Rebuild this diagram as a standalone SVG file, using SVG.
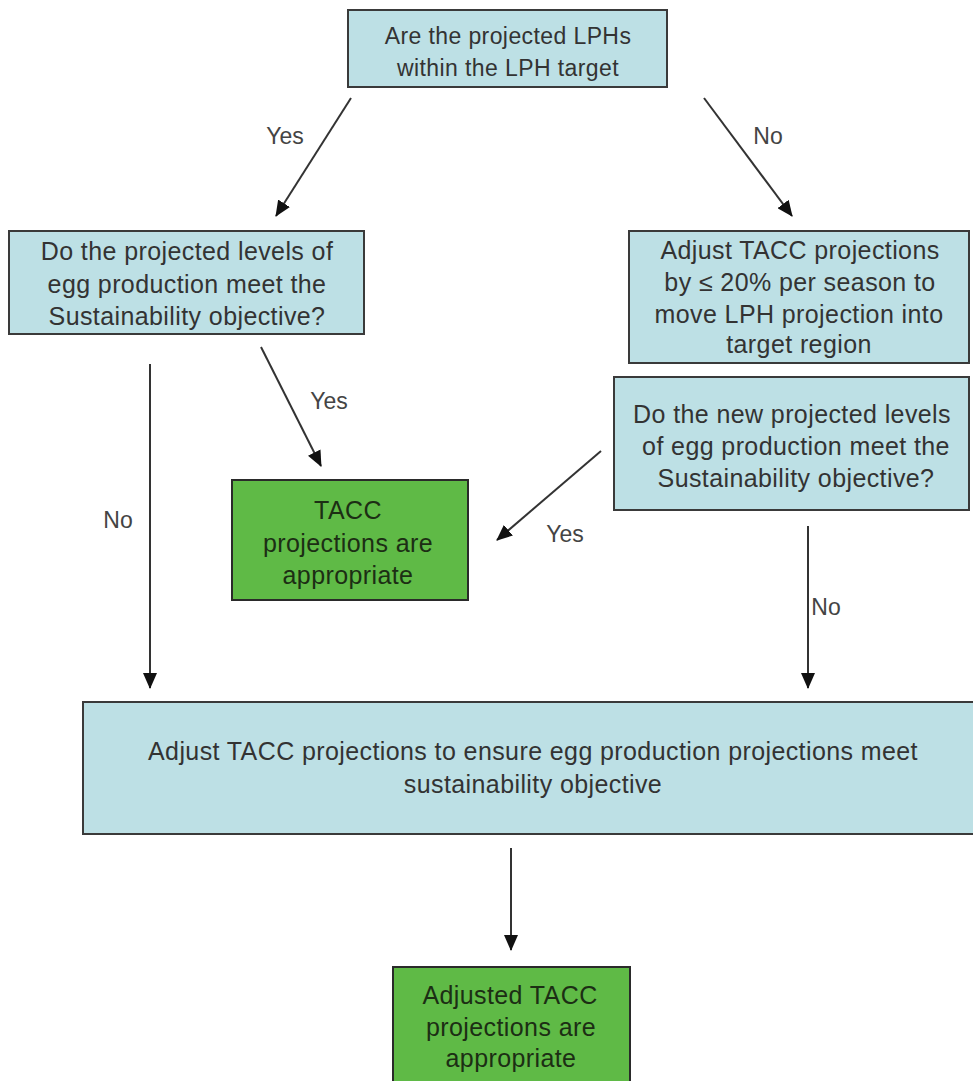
<svg xmlns="http://www.w3.org/2000/svg" width="973" height="1081" viewBox="0 0 973 1081">
<defs>
<marker id="ah" markerWidth="16" markerHeight="14" refX="15" refY="7" orient="auto" markerUnits="userSpaceOnUse" viewBox="0 0 16 14">
<path d="M0,0 L16,7 L0,14 z" fill="#111"/>
</marker>
<style>
.b{fill:#bde0e5;stroke:#3a3a3a;stroke-width:2}
.g{fill:#5fba46;stroke:#2a2a2a;stroke-width:2}
.t{font-family:"Liberation Sans",Arial,sans-serif;font-size:25px;letter-spacing:0.4px;fill:#333;text-anchor:middle}
.tg{font-family:"Liberation Sans",Arial,sans-serif;font-size:25px;letter-spacing:0.4px;fill:#1c2e14;text-anchor:middle}
.l{font-family:"Liberation Sans",Arial,sans-serif;font-size:23px;fill:#444;text-anchor:middle}
.c{stroke:#333;stroke-width:2;fill:none;marker-end:url(#ah)}
</style>
</defs>
<rect width="973" height="1081" fill="#fff"/>
<g id="n1"><rect class="b" x="348" y="10" width="319" height="77"/>
<text class="t" x="508" y="44" style="font-size:23px">Are the projected LPHs</text>
<text class="t" x="508" y="76" style="font-size:23px">within the LPH target</text></g>
<g id="n2"><rect class="b" x="9" y="231" width="355" height="103"/>
<text class="t" x="187" y="260">Do the projected levels of</text>
<text class="t" x="187" y="293">egg production meet the</text>
<text class="t" x="187" y="325">Sustainability objective?</text></g>
<g id="n3"><rect class="b" x="629" y="231" width="340" height="132"/>
<text class="t" x="800" y="259">Adjust TACC projections</text>
<text class="t" x="800" y="291">by ≤ 20% per season to</text>
<text class="t" x="799" y="323">move LPH projection into</text>
<text class="t" x="799" y="353">target region</text></g>
<g id="n4"><rect class="b" x="614" y="377" width="355" height="133"/>
<text class="t" x="792" y="423">Do the new projected levels</text>
<text class="t" x="796" y="455">of egg production meet the</text>
<text class="t" x="796" y="487">Sustainability objective?</text></g>
<g id="n5"><rect class="g" x="232" y="480" width="236" height="120"/>
<text class="tg" x="348" y="519">TACC</text>
<text class="tg" x="348" y="552">projections are</text>
<text class="tg" x="348" y="584">appropriate</text></g>
<g id="n6"><rect class="b" x="83" y="702" width="895" height="132"/>
<text class="t" x="533" y="760">Adjust TACC projections to ensure egg production projections meet</text>
<text class="t" x="533" y="793">sustainability objective</text></g>
<g id="n7"><rect class="g" x="393" y="967" width="237" height="125"/>
<text class="tg" x="510" y="1004">Adjusted TACC</text>
<text class="tg" x="511" y="1036">projections are</text>
<text class="tg" x="511" y="1067">appropriate</text></g>
<g id="connectors">
<line class="c" x1="351" y1="98" x2="276" y2="216"/>
<line class="c" x1="704" y1="98" x2="792" y2="216"/>
<line class="c" x1="261" y1="347" x2="321" y2="466"/>
<line class="c" x1="150" y1="364" x2="150" y2="688"/>
<line class="c" x1="601" y1="451" x2="497" y2="540"/>
<line class="c" x1="808" y1="526" x2="808" y2="688"/>
<line class="c" x1="511" y1="848" x2="511" y2="950"/>
<text class="l" x="285" y="144">Yes</text>
<text class="l" x="768" y="144">No</text>
<text class="l" x="329" y="409">Yes</text>
<text class="l" x="118" y="528">No</text>
<text class="l" x="565" y="542">Yes</text>
<text class="l" x="826" y="615">No</text>
</g>
</svg>
